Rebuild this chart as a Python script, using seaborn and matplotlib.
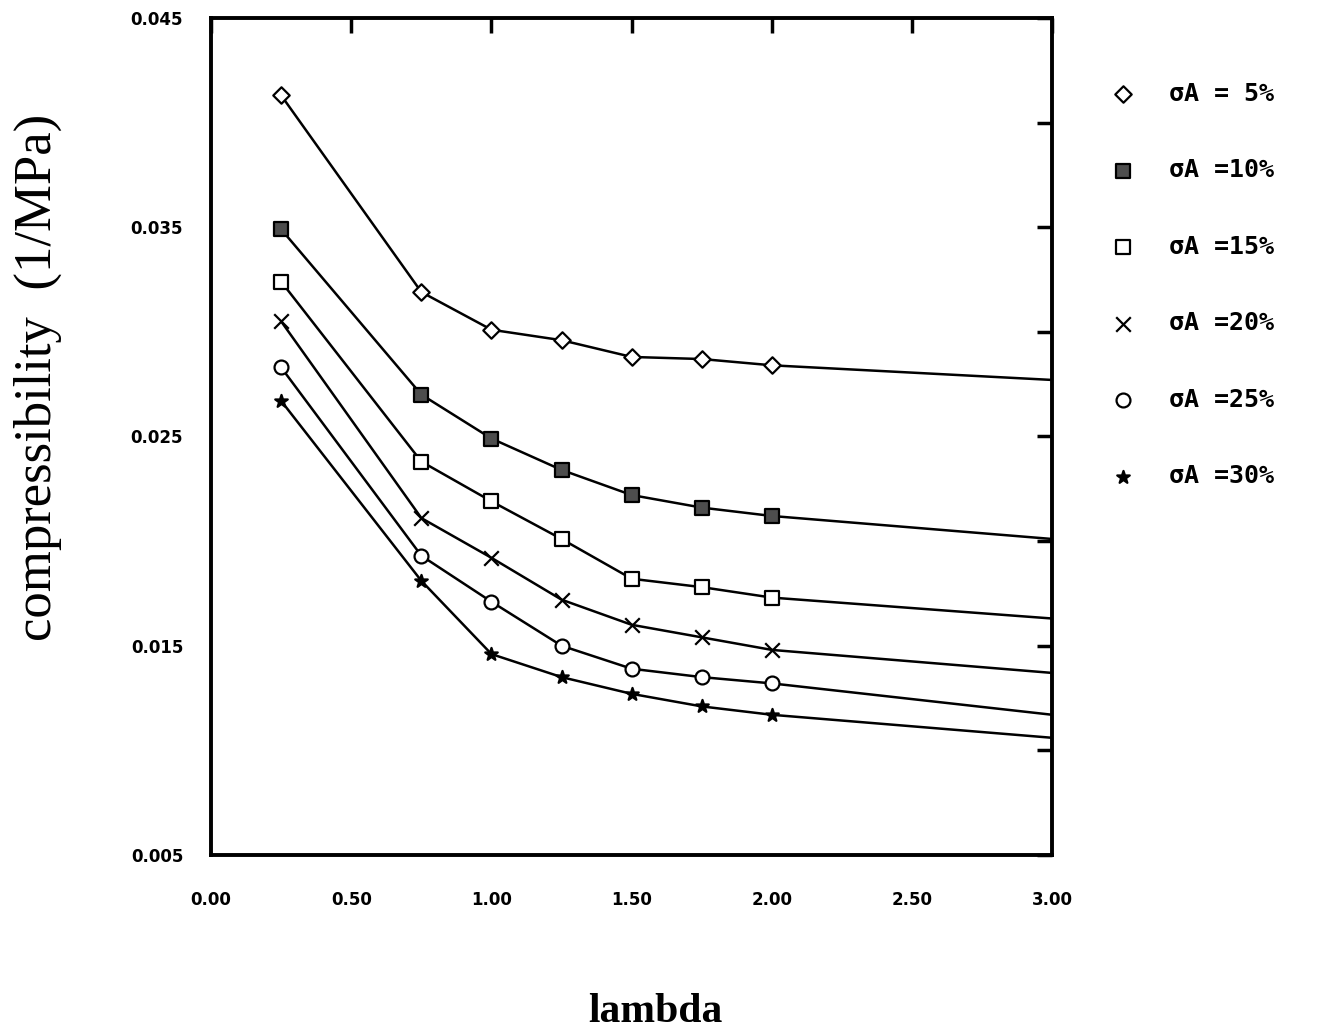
import pandas as pd
import matplotlib.pyplot as plt
import seaborn as sns

# lambda values (last point is line end only, no marker)
lam = [0.25, 0.75, 1.00, 1.25, 1.50, 1.75, 2.00, 3.00]

comp_5 = [0.0413, 0.0319, 0.0301, 0.0296, 0.0288, 0.0287, 0.0284, 0.0277]
comp_10 = [0.0349, 0.0270, 0.0249, 0.0234, 0.0222, 0.0216, 0.0212, 0.0201]
comp_15 = [0.0324, 0.0238, 0.0219, 0.0201, 0.0182, 0.0178, 0.0173, 0.0163]
comp_20 = [0.0305, 0.0211, 0.0192, 0.0172, 0.0160, 0.0154, 0.0148, 0.0137]
comp_25 = [0.0283, 0.0193, 0.0171, 0.0150, 0.0139, 0.0135, 0.0132, 0.0117]
comp_30 = [0.0267, 0.0181, 0.0146, 0.0135, 0.0127, 0.0121, 0.0117, 0.0106]

labels = ["σA = 5%", "σA =10%", "σA =15%", "σA =20%", "σA =25%", "σA =30%"]
series = [comp_5, comp_10, comp_15, comp_20, comp_25, comp_30]

xticks = [0.0, 0.5, 1.0, 1.5, 2.0, 2.5, 3.0]
yticks = [0.005, 0.015, 0.025, 0.035, 0.045]
yminor = [0.010, 0.020, 0.030, 0.040]

# marker styles
styles = [
    dict(marker="D", s=70, facecolor="white", edgecolor="black"),
    dict(marker="s", s=90, facecolor="0.3", edgecolor="black"),
    dict(marker="s", s=90, facecolor="white", edgecolor="black"),
    dict(marker="x", s=110, color="black"),
    dict(marker="o", s=100, facecolor="white", edgecolor="black"),
    dict(marker="*", s=90, facecolor="black", edgecolor="black"),
]

rows = []
for lab, vals in zip(labels, series):
    for x, y in zip(lam, vals):
        rows.append({"lambda": x, "comp": y, "group": lab})
df = pd.DataFrame(rows)

sns.set_style("white")
plt.rcParams["font.family"] = ["DejaVu Sans"]
plt.rcParams["text.color"] = "black"
plt.rcParams["axes.labelcolor"] = "black"
plt.rcParams["xtick.color"] = "black"
plt.rcParams["ytick.color"] = "black"

fig = plt.figure(figsize=(13.23, 10.36), dpi=100)
ax = fig.add_axes([0.1595, 0.1747, 0.636, 0.808])

sns.lineplot(
    data=df,
    x="lambda",
    y="comp",
    units="group",
    estimator=None,
    color="black",
    linewidth=1.8,
    ax=ax,
    legend=False
)

for lab, st in zip(labels, styles):
    sub = df[(df["group"] == lab) & (df["lambda"] < 3.0)]
    sns.scatterplot(
        data=sub,
        x="lambda",
        y="comp",
        linewidth=1.6,
        zorder=3,
        ax=ax,
        label=lab,
        legend=False,
        **st
    )

ax.set_xlim(0, 3)
ax.set_ylim(0.005, 0.045)

ax.set_xticks(xticks)
ax.set_xticklabels([f"{t:.2f}" for t in xticks])
ax.set_yticks(yticks)
ax.set_yticklabels([f"{t:.3f}" for t in yticks])
ax.set_yticks(yminor, minor=True)

ax.tick_params(
    axis="both", which="both", direction="in",
    top=True, right=True, length=11, width=2.5, colors="black"
)
ax.tick_params(axis="x", which="major", pad=26)
ax.tick_params(axis="y", which="major", pad=20)

for lbl in ax.get_xticklabels() + ax.get_yticklabels():
    lbl.set_fontweight("bold")
    lbl.set_fontsize(12)

for sp in ax.spines.values():
    sp.set_linewidth(2.8)
    sp.set_color("black")

ax.set_xlabel("lambda", family="Liberation Serif", fontweight="bold", fontsize=30)
ax.xaxis.set_label_coords(0.528, -0.165)

ax.set_ylabel("compressibility  (1/MPa)", family="Liberation Serif", fontsize=38)
ax.yaxis.label.set_va("center")
ax.yaxis.set_label_coords(-0.206, 0.57)

handles = ax.collections[-6:]
fig.legend(
    handles=handles,
    labels=labels,
    loc="upper left",
    bbox_to_anchor=(0.840, 0.921),
    frameon=False,
    prop={"family": "DejaVu Sans Mono", "weight": "bold", "size": 18},
    labelspacing=2.1,
    handlelength=0.9,
    handletextpad=1.4,
    borderpad=0,
    borderaxespad=0
)

plt.savefig("out.png", dpi=100)
